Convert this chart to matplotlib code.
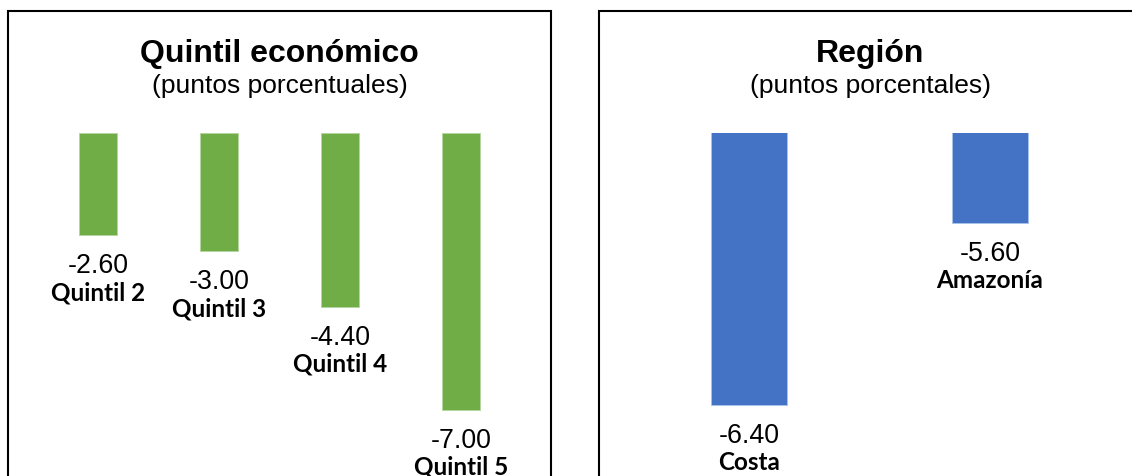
import matplotlib
matplotlib.use("Agg")
import matplotlib.pyplot as plt
from matplotlib.patches import Rectangle

# --- data ---
quintil_labels = ["Quintil 2", "Quintil 3", "Quintil 4", "Quintil 5"]
quintil_values = [-2.60, -3.00, -4.40, -7.00]

region_labels = ["Costa", "Amazonía"]
region_values = [-6.40, -5.60]

W, H = 1132, 476
DPI = 100
fig = plt.figure(figsize=(W / DPI, H / DPI), dpi=DPI)
fig.patch.set_facecolor("white")

GREEN = "#70AD47"
BLUE = "#4472C4"
TITLE_FONT = "Liberation Sans"
CAT_FONT = "Lato"


def px_rect(x0, y0, x1, y1):
    """Pixel box (top-left origin) -> figure fraction [l, b, w, h]."""
    return [x0 / W, 1 - y1 / H, (x1 - x0) / W, (y1 - y0) / H]


def frame(x0, y0, x1, y1):
    l, b, w, h = px_rect(x0, y0, x1, y1)
    fig.patches.append(Rectangle((l, b), w, h, transform=fig.transFigure,
                                 fill=False, edgecolor="black", linewidth=1.5,
                                 clip_on=False))


def panel(frame_box, plot_box, xlim, ylim, cats, vals, color, edge, width,
          title, subtitle):
    x0, y0, x1, y1 = frame_box
    frame(x0, y0, x1, y1)
    cx = ((x0 + x1) / 2) / W
    fig.text(cx, 1 - 62 / H, title, ha="center", va="baseline",
             fontsize=23, fontweight="bold", family=TITLE_FONT)
    fig.text(cx, 1 - 93 / H, subtitle, ha="center", va="baseline",
             fontsize=19, family=TITLE_FONT)

    ax = fig.add_axes(px_rect(*plot_box))
    ax.set_axis_off()
    xs = list(range(len(vals)))
    ax.bar(xs, vals, width=width, color=color, edgecolor=edge, linewidth=0.6)
    ax.set_xlim(*xlim)
    ax.set_ylim(*ylim)
    for x, v, c in zip(xs, vals, cats):
        ax.annotate(f"{v:.2f}", (x, v), xytext=(0, -38), textcoords="offset pixels",
                    ha="center", va="baseline", fontsize=19.3, family=TITLE_FONT,
                    annotation_clip=False)
        ax.annotate(c, (x, v), xytext=(0, -65), textcoords="offset pixels",
                    ha="center", va="baseline", fontsize=17.5, fontweight="bold",
                    family=CAT_FONT, annotation_clip=False)


# Left panel: economic quintile
panel(frame_box=(8, 11, 551, 520), plot_box=(8, 132.5, 551, 476),
      xlim=(-0.744, 3.744), ylim=(-(476 - 132.5) / 39.6, 0),
      cats=quintil_labels, vals=quintil_values, color=GREEN, edge="#b5d5a0",
      width=0.314, title="Quintil económico", subtitle="(puntos porcentuales)")

# Right panel: region (value axis starts at -5.2)
panel(frame_box=(599, 11, 1141, 520), plot_box=(599, 132.5, 1132, 476),
      xlim=(-0.622, 1.589), ylim=(-5.2 - (476 - 132.5) / 227.0, -5.2),
      cats=region_labels, vals=region_values, color=BLUE, edge="#a9c4e8",
      width=0.315, title="Región", subtitle="(puntos porcentales)")

fig.savefig("out.png", dpi=DPI, facecolor="white")
